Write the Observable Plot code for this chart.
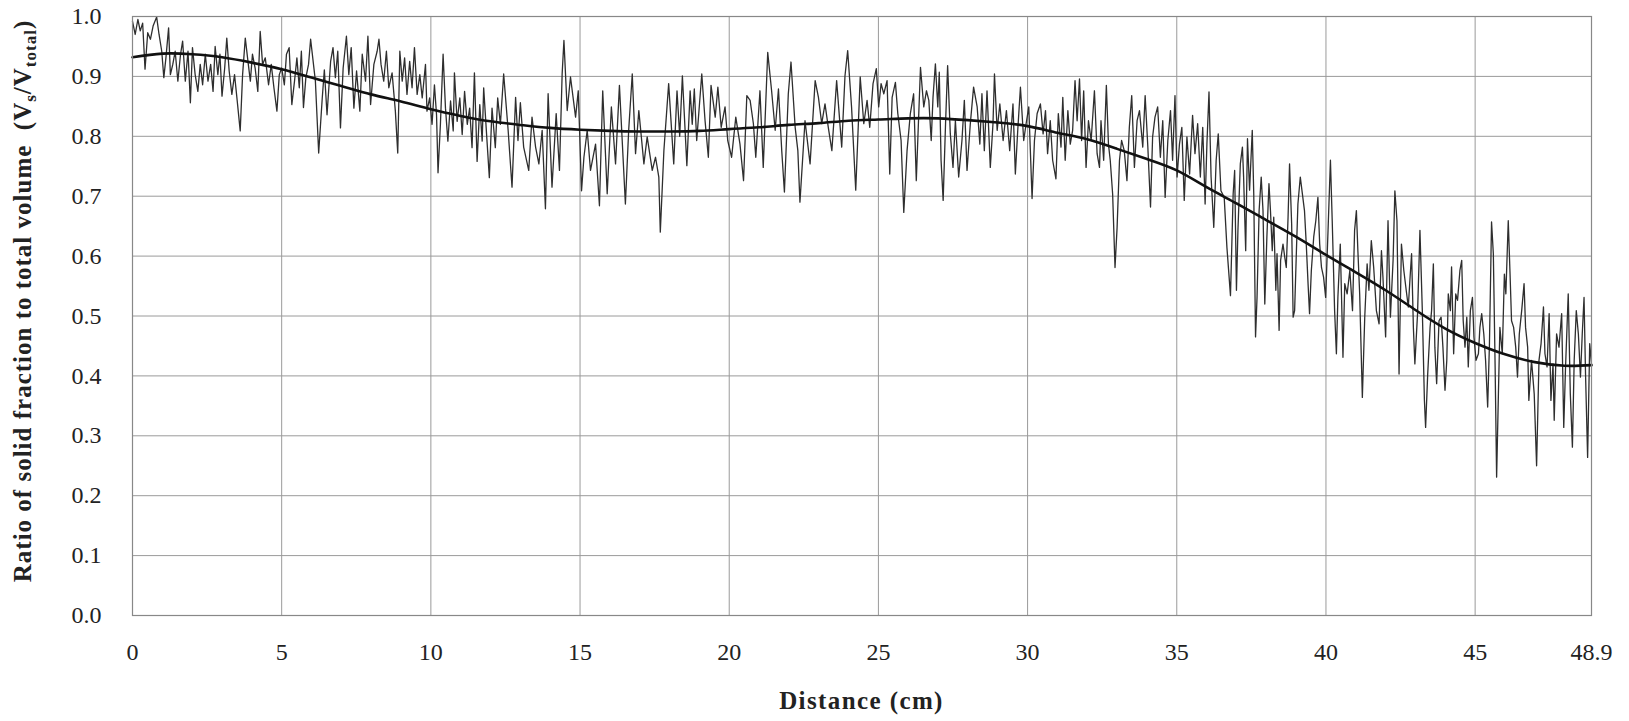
<!DOCTYPE html>
<html>
<head>
<meta charset="utf-8">
<script src="https://cdn.jsdelivr.net/npm/d3@7"></script>
<script src="https://cdn.jsdelivr.net/npm/@observablehq/plot@0.6"></script>
<style>
  html, body { margin: 0; padding: 0; background: #fff; }
  #chart { width: 1629px; height: 721px; }
</style>
</head>
<body>
<div id="chart"></div>
<script>
const xTicks = [0, 5, 10, 15, 20, 25, 30, 35, 40, 45, 48.9];
const yTicks = [0, 0.1, 0.2, 0.3, 0.4, 0.5, 0.6, 0.7, 0.8, 0.9, 1.0];
const xTitle = "Distance (cm)";
const yTitleParts = ["Ratio of solid fraction to total volume\u00a0\u00a0(V", "s", "/V", "total", ")"];

// measured ratio, [distance cm, ratio]
const measured = [
[0.00,0.992],[0.09,0.970],[0.18,0.995],[0.26,0.976],[0.34,0.989],[0.42,0.912],[0.51,0.973],[0.60,0.962],[0.69,0.984],[0.81,0.999],
[0.89,0.970],[0.98,0.942],[1.05,0.898],[1.12,0.931],[1.21,0.981],[1.27,0.903],[1.35,0.920],[1.43,0.942],[1.52,0.892],[1.61,0.937],
[1.68,0.959],[1.77,0.892],[1.86,0.942],[1.94,0.856],[2.01,0.948],[2.10,0.903],[2.19,0.875],[2.27,0.920],[2.35,0.886],[2.44,0.937],
[2.53,0.892],[2.62,0.920],[2.70,0.875],[2.77,0.950],[2.86,0.903],[2.93,0.937],[3.00,0.867],[3.09,0.914],[3.16,0.964],[3.24,0.909],
[3.33,0.870],[3.42,0.903],[3.51,0.859],[3.61,0.809],[3.69,0.903],[3.78,0.964],[3.87,0.925],[3.95,0.892],[4.02,0.937],[4.11,0.914],
[4.20,0.875],[4.28,0.975],[4.36,0.920],[4.45,0.931],[4.56,0.886],[4.65,0.920],[4.74,0.881],[4.84,0.842],[4.92,0.903],[5.00,0.914],
[5.09,0.886],[5.16,0.937],[5.25,0.948],[5.34,0.853],[5.43,0.892],[5.51,0.931],[5.59,0.881],[5.66,0.942],[5.73,0.848],[5.81,0.898],
[5.90,0.920],[5.97,0.962],[6.13,0.892],[6.24,0.772],[6.36,0.864],[6.43,0.911],[6.52,0.836],[6.64,0.925],[6.72,0.948],[6.80,0.898],
[6.88,0.942],[6.97,0.814],[7.06,0.914],[7.17,0.967],[7.25,0.903],[7.33,0.948],[7.42,0.847],[7.51,0.909],[7.62,0.842],[7.70,0.937],
[7.81,0.892],[7.89,0.967],[7.98,0.853],[8.09,0.920],[8.20,0.942],[8.26,0.962],[8.33,0.920],[8.42,0.892],[8.51,0.942],[8.59,0.881],
[8.70,0.906],[8.81,0.842],[8.89,0.772],[8.96,0.942],[9.04,0.892],[9.12,0.931],[9.20,0.870],[9.29,0.925],[9.37,0.881],[9.45,0.948],
[9.54,0.870],[9.63,0.903],[9.71,0.864],[9.82,0.920],[9.87,0.842],[9.96,0.864],[10.04,0.820],[10.12,0.886],[10.19,0.836],[10.24,0.739],
[10.32,0.820],[10.41,0.937],[10.49,0.847],[10.57,0.792],[10.66,0.859],[10.75,0.809],[10.79,0.906],[10.88,0.825],[10.97,0.864],[11.05,0.803],
[11.13,0.875],[11.22,0.820],[11.30,0.847],[11.38,0.781],[11.46,0.906],[11.55,0.758],[11.64,0.853],[11.72,0.792],[11.77,0.881],[11.86,0.809],
[11.96,0.731],[12.05,0.847],[12.16,0.781],[12.24,0.864],[12.33,0.820],[12.44,0.904],[12.59,0.810],[12.72,0.715],[12.84,0.865],[12.92,0.793],
[13.00,0.856],[13.11,0.782],[13.28,0.743],[13.39,0.832],[13.51,0.782],[13.62,0.754],[13.73,0.810],[13.84,0.679],[13.93,0.871],[14.06,0.715],
[14.20,0.838],[14.31,0.743],[14.40,0.904],[14.46,0.960],[14.57,0.843],[14.68,0.899],[14.85,0.832],[14.94,0.876],[15.05,0.709],[15.13,0.765],
[15.24,0.810],[15.35,0.743],[15.52,0.787],[15.65,0.684],[15.76,0.876],[15.91,0.704],[16.05,0.849],[16.19,0.754],[16.32,0.885],[16.52,0.687],
[16.63,0.810],[16.75,0.904],[16.86,0.771],[16.97,0.843],[17.14,0.754],[17.25,0.799],[17.42,0.743],[17.53,0.765],[17.64,0.732],[17.69,0.640],
[17.81,0.776],[17.97,0.888],[18.14,0.754],[18.25,0.876],[18.34,0.800],[18.43,0.901],[18.58,0.751],[18.69,0.876],[18.76,0.820],[18.83,0.879],
[18.91,0.793],[19.08,0.904],[19.19,0.826],[19.30,0.765],[19.39,0.885],[19.53,0.832],[19.62,0.882],[19.73,0.815],[19.86,0.849],[19.95,0.793],
[20.08,0.765],[20.22,0.832],[20.36,0.787],[20.48,0.726],[20.59,0.868],[20.70,0.860],[20.81,0.821],[20.89,0.765],[21.03,0.876],[21.14,0.748],
[21.29,0.940],[21.42,0.876],[21.54,0.810],[21.65,0.879],[21.76,0.776],[21.85,0.707],[21.98,0.871],[22.07,0.924],[22.21,0.815],[22.30,0.776],
[22.37,0.690],[22.54,0.826],[22.71,0.754],[22.88,0.893],[22.99,0.865],[23.10,0.821],[23.21,0.854],[23.32,0.815],[23.44,0.776],[23.60,0.893],
[23.77,0.782],[23.88,0.901],[23.97,0.943],[24.10,0.849],[24.24,0.710],[24.39,0.899],[24.51,0.821],[24.62,0.860],[24.71,0.815],[24.82,0.888],
[24.93,0.913],[25.01,0.849],[25.09,0.888],[25.18,0.871],[25.29,0.893],[25.38,0.737],[25.46,0.865],[25.57,0.890],[25.65,0.838],[25.76,0.793],
[25.85,0.673],[25.96,0.776],[26.07,0.838],[26.18,0.871],[26.27,0.726],[26.41,0.915],[26.52,0.849],[26.61,0.876],[26.69,0.860],[26.77,0.793],
[26.83,0.865],[26.91,0.921],[26.99,0.849],[27.04,0.907],[27.10,0.760],[27.17,0.693],[27.25,0.821],[27.32,0.918],[27.41,0.804],[27.50,0.748],
[27.58,0.826],[27.69,0.732],[27.80,0.793],[27.88,0.860],[27.97,0.743],[28.08,0.821],[28.19,0.882],[28.31,0.849],[28.40,0.787],[28.47,0.871],
[28.55,0.776],[28.64,0.876],[28.75,0.748],[28.84,0.821],[28.89,0.904],[28.98,0.810],[29.07,0.854],[29.18,0.793],[29.29,0.843],[29.40,0.776],
[29.51,0.854],[29.59,0.737],[29.67,0.810],[29.76,0.882],[29.87,0.793],[29.95,0.821],[30.04,0.849],[30.15,0.696],[30.23,0.793],[30.32,0.838],
[30.43,0.854],[30.52,0.804],[30.60,0.843],[30.67,0.771],[30.76,0.826],[30.84,0.760],[30.95,0.729],[31.03,0.838],[31.12,0.782],[31.18,0.865],
[31.26,0.760],[31.35,0.843],[31.43,0.787],[31.51,0.810],[31.59,0.893],[31.66,0.826],[31.74,0.896],[31.81,0.793],[31.88,0.876],[31.96,0.748],
[32.04,0.826],[32.13,0.793],[32.24,0.876],[32.33,0.771],[32.41,0.748],[32.46,0.826],[32.55,0.760],[32.64,0.885],[32.71,0.787],[32.77,0.760],
[32.85,0.704],[32.93,0.581],[33.00,0.648],[33.08,0.760],[33.15,0.793],[33.24,0.776],[33.33,0.726],[33.41,0.815],[33.49,0.868],[33.58,0.748],
[33.67,0.826],[33.75,0.843],[33.86,0.782],[33.94,0.868],[34.03,0.782],[34.12,0.682],[34.19,0.799],[34.27,0.832],[34.36,0.849],[34.45,0.765],
[34.53,0.826],[34.61,0.698],[34.70,0.793],[34.79,0.843],[34.86,0.760],[34.94,0.868],[35.01,0.732],[35.09,0.787],[35.17,0.815],[35.25,0.693],
[35.34,0.799],[35.43,0.737],[35.53,0.835],[35.61,0.771],[35.70,0.821],[35.79,0.732],[35.87,0.815],[35.95,0.687],[36.01,0.787],[36.08,0.874],
[36.15,0.732],[36.24,0.648],[36.32,0.760],[36.39,0.804],[36.48,0.709],[36.59,0.698],[36.68,0.615],[36.80,0.534],[36.89,0.704],[36.94,0.743],
[37.00,0.543],[37.05,0.643],[37.13,0.754],[37.20,0.782],[37.24,0.732],[37.31,0.609],[37.37,0.796],[37.44,0.710],[37.53,0.810],[37.58,0.704],
[37.64,0.465],[37.69,0.531],[37.76,0.676],[37.83,0.732],[37.89,0.676],[37.95,0.520],[38.02,0.632],[38.09,0.721],[38.14,0.676],[38.20,0.609],
[38.25,0.665],[38.32,0.543],[38.36,0.604],[38.43,0.476],[38.48,0.593],[38.56,0.620],[38.62,0.598],[38.67,0.581],[38.73,0.665],[38.78,0.754],
[38.85,0.654],[38.90,0.498],[38.95,0.509],[39.01,0.609],[39.06,0.687],[39.14,0.732],[39.21,0.704],[39.28,0.676],[39.34,0.620],[39.40,0.554],
[39.45,0.504],[39.51,0.576],[39.59,0.632],[39.66,0.659],[39.73,0.698],[39.79,0.620],[39.85,0.581],[39.92,0.565],[39.99,0.531],[40.07,0.643],
[40.15,0.760],[40.21,0.659],[40.29,0.509],[40.35,0.437],[40.40,0.531],[40.48,0.620],[40.57,0.431],[40.63,0.554],[40.71,0.537],[40.80,0.576],
[40.89,0.509],[40.96,0.643],[41.02,0.676],[41.07,0.609],[41.13,0.537],[41.22,0.364],[41.30,0.498],[41.38,0.587],[41.44,0.543],[41.52,0.626],
[41.60,0.581],[41.69,0.509],[41.78,0.487],[41.86,0.609],[41.91,0.565],[42.00,0.465],[42.08,0.659],[42.16,0.498],[42.25,0.593],[42.31,0.709],
[42.38,0.659],[42.45,0.403],[42.53,0.620],[42.61,0.576],[42.69,0.543],[42.76,0.515],[42.82,0.565],[42.87,0.604],[42.93,0.481],[42.98,0.420],
[43.07,0.504],[43.15,0.643],[43.23,0.509],[43.30,0.359],[43.34,0.314],[43.41,0.403],[43.49,0.481],[43.54,0.509],[43.60,0.587],[43.65,0.448],
[43.71,0.387],[43.79,0.492],[43.86,0.498],[43.92,0.448],[43.99,0.376],[44.05,0.426],[44.10,0.537],[44.17,0.509],[44.21,0.582],[44.28,0.437],
[44.35,0.537],[44.41,0.526],[44.49,0.576],[44.55,0.593],[44.60,0.492],[44.66,0.448],[44.72,0.498],[44.77,0.415],[44.84,0.509],[44.91,0.531],
[44.96,0.465],[45.03,0.426],[45.11,0.437],[45.16,0.481],[45.22,0.504],[45.29,0.470],[45.35,0.426],[45.42,0.348],[45.48,0.454],[45.55,0.657],
[45.61,0.604],[45.67,0.415],[45.72,0.231],[45.78,0.370],[45.83,0.481],[45.91,0.437],[45.98,0.570],[46.03,0.537],[46.11,0.659],[46.17,0.570],
[46.22,0.492],[46.29,0.481],[46.36,0.448],[46.42,0.398],[46.48,0.470],[46.56,0.509],[46.64,0.554],[46.69,0.481],[46.76,0.448],[46.80,0.359],
[46.89,0.426],[46.98,0.370],[47.06,0.250],[47.14,0.426],[47.21,0.454],[47.29,0.515],[47.34,0.437],[47.41,0.415],[47.48,0.504],[47.54,0.359],
[47.61,0.420],[47.65,0.326],[47.73,0.470],[47.81,0.448],[47.90,0.504],[47.97,0.314],[48.03,0.415],[48.12,0.537],[48.19,0.370],[48.26,0.281],
[48.32,0.426],[48.39,0.509],[48.46,0.470],[48.53,0.398],[48.59,0.470],[48.65,0.531],[48.70,0.403],[48.77,0.264],[48.84,0.454],[48.90,0.420]
];

// smooth trend curve, [distance cm, ratio]
const trend = [
[0,0.932],[1,0.938],[2,0.937],[3,0.932],[4,0.923],[5,0.912],[6,0.898],[7,0.884],[8,0.870],[9,0.858],
[10,0.845],[11,0.834],[12,0.825],[13,0.819],[14,0.814],[15,0.811],[16,0.809],[17,0.808],[18,0.808],[19,0.809],
[20,0.812],[21,0.815],[22,0.819],[23,0.822],[24,0.826],[25,0.828],[26,0.830],[27,0.830],[28,0.827],[29,0.823],
[30,0.817],[31,0.806],[32,0.795],[33,0.779],[34,0.762],[35,0.743],[36,0.715],[37,0.688],[38,0.660],[39,0.632],
[40,0.602],[41,0.573],[42,0.543],[43,0.510],[44,0.479],[45,0.455],[46,0.436],[47,0.423],[48,0.417],[48.9,0.418]
];

const FONT = "'Liberation Serif', 'DejaVu Serif', serif";

const chart = Plot.plot({
  width: 1629,
  height: 721,
  marginTop: 16,
  marginBottom: 106,
  marginLeft: 132,
  marginRight: 38,
  style: { fontFamily: FONT, fontSize: "24px", color: "#222", background: "#fff" },
  x: { domain: [0, 48.9] },
  y: { domain: [0, 1] },
  marks: [
    Plot.gridX(xTicks, { stroke: "#9a9a9a", strokeOpacity: 1, strokeWidth: 1 }),
    Plot.gridY(yTicks, { stroke: "#9a9a9a", strokeOpacity: 1, strokeWidth: 1 }),
    Plot.axisX(xTicks, { tickSize: 0, tickPadding: 27, label: null, fontSize: 24,
      tickFormat: d => (d === 48.9 ? "48.9" : String(d)) }),
    Plot.axisY(yTicks, { tickSize: 0, tickPadding: 31, label: null, fontSize: 24,
      tickFormat: d3.format(".1f") }),
    Plot.line(measured, { x: d => d[0], y: d => d[1], stroke: "#2e2e2e", strokeWidth: 1.3 }),
    Plot.line(trend, { x: d => d[0], y: d => d[1], stroke: "#111", strokeWidth: 2.6, curve: "natural" }),
    Plot.frame({ stroke: "#888", strokeWidth: 1.2 })
  ]
});

const svg = d3.select(chart);
// y axis title with subscripts
const yt = svg.append("text")
  .attr("transform", "translate(31,301) rotate(-90)")
  .attr("text-anchor", "middle")
  .attr("font-family", FONT)
  .attr("font-weight", "bold")
  .attr("font-size", 25)
  .attr("letter-spacing", "1px")
  .attr("fill", "#222");
yt.append("tspan").text(yTitleParts[0]);
yt.append("tspan").attr("font-size", 17).attr("dy", 5).text(yTitleParts[1]);
yt.append("tspan").attr("dy", -5).text(yTitleParts[2]);
yt.append("tspan").attr("font-size", 17).attr("dy", 5).text(yTitleParts[3]);
yt.append("tspan").attr("dy", -5).text(yTitleParts[4]);

svg.append("text")
  .attr("x", 861.5)
  .attr("y", 709)
  .attr("text-anchor", "middle")
  .attr("font-family", FONT)
  .attr("font-weight", "bold")
  .attr("font-size", 25)
  .attr("letter-spacing", "1.4px")
  .attr("fill", "#222")
  .text(xTitle);

document.getElementById("chart").appendChild(chart);
</script>
</body>
</html>
